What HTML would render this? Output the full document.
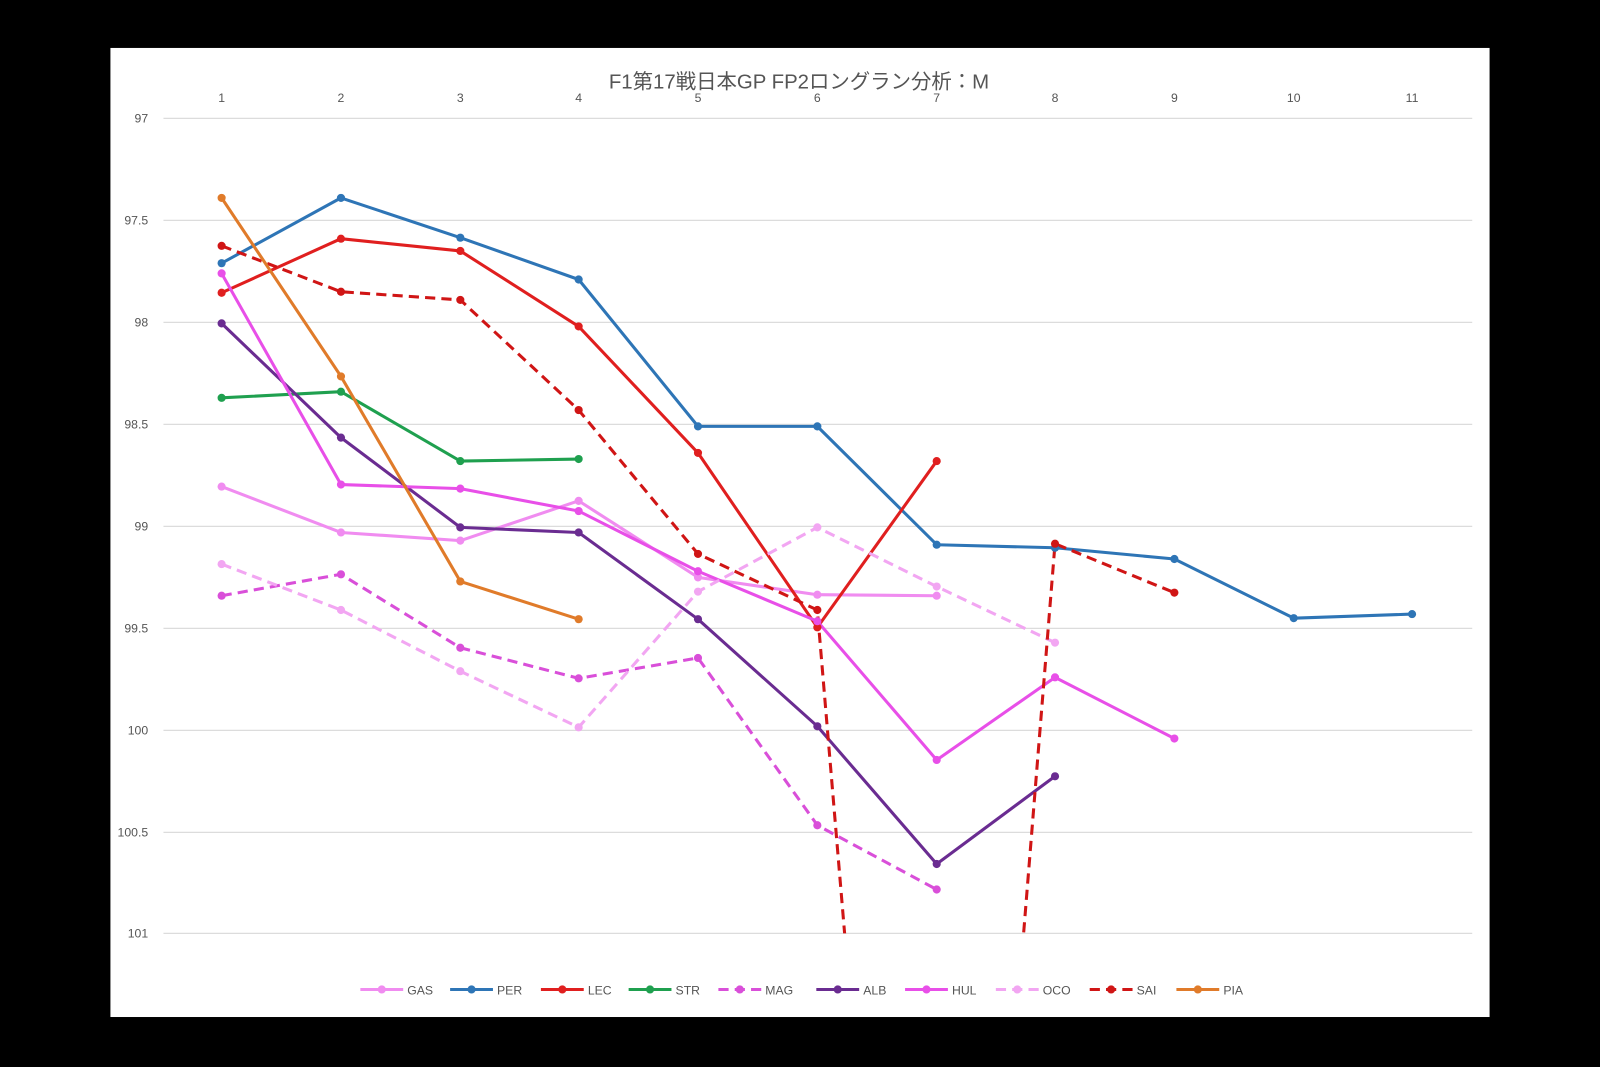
<!DOCTYPE html>
<html><head><meta charset="utf-8"><style>html,body{margin:0;padding:0;background:#000;width:1600px;height:1067px;overflow:hidden}svg{display:block;overflow:hidden}</style></head><body>
<svg width="1600" height="1067" viewBox="0 0 1568 1046" xmlns="http://www.w3.org/2000/svg" font-family="Liberation Sans, Noto Sans CJK JP, sans-serif">
<rect x="0" y="0" width="1568" height="1046" fill="#000"/>
<rect x="108" y="47" width="1352" height="950" fill="#fff"/>
<g stroke="#dcdcdc" stroke-width="1.2">
<line x1="160" y1="116" x2="1443" y2="116"/><line x1="160" y1="216" x2="1443" y2="216"/><line x1="160" y1="316" x2="1443" y2="316"/><line x1="160" y1="416" x2="1443" y2="416"/><line x1="160" y1="516" x2="1443" y2="516"/><line x1="160" y1="616" x2="1443" y2="616"/><line x1="160" y1="716" x2="1443" y2="716"/><line x1="160" y1="816" x2="1443" y2="816"/><line x1="160" y1="915" x2="1443" y2="915"/>
</g>
<g font-size="12" fill="#555" text-anchor="end">
<text x="145" y="120">97</text><text x="145" y="220">97.5</text><text x="145" y="320">98</text><text x="145" y="420">98.5</text><text x="145" y="520">99</text><text x="145" y="620">99.5</text><text x="145" y="720">100</text><text x="145" y="820">100.5</text><text x="145" y="919">101</text>
</g>
<g font-size="12" fill="#555" text-anchor="middle">
<text x="217" y="100">1</text><text x="334" y="100">2</text><text x="451" y="100">3</text><text x="567" y="100">4</text><text x="684" y="100">5</text><text x="801" y="100">6</text><text x="918" y="100">7</text><text x="1034" y="100">8</text><text x="1151" y="100">9</text><text x="1268" y="100">10</text><text x="1384" y="100">11</text>
</g>
<text x="783" y="87" font-size="20" fill="#555" text-anchor="middle">F1第17戦日本GP FP2ロングラン分析：M</text>
<defs><clipPath id="c"><rect x="108" y="47" width="1352" height="868"/></clipPath></defs>
<g fill="none" stroke-width="3" stroke-linejoin="round" clip-path="url(#c)">
<polyline stroke="#f08cf0" points="217,477 334,522 451,530 567,491 684,566 801,583 918,584"/>
<polyline stroke="#2e75b6" points="217,258 334,194 451,233 567,274 684,418 801,418 918,534 1034,537 1151,548 1268,606 1384,602"/>
<polyline stroke="#e01f1f" points="217,287 334,234 451,246 567,320 684,444 801,615 918,452"/>
<polyline stroke="#1fa04f" points="217,390 334,384 451,452 567,450"/>
<polyline stroke="#d94fd9" stroke-dasharray="10,6" points="217,584 334,563 451,635 567,665 684,645 801,809 918,872"/>
<polyline stroke="#6a2c91" points="217,317 334,429 451,517 567,522 684,607 801,712 918,847 1034,761"/>
<polyline stroke="#e84fe8" points="217,268 334,475 451,479 567,501 684,560 801,609 918,745 1034,664 1151,724"/>
<polyline stroke="#f2a6f2" stroke-dasharray="10,6" points="217,553 334,598 451,658 567,713 684,580 801,517 918,575 1034,630"/>
<polyline stroke="#d01515" stroke-dasharray="10,6" points="217,241 334,286 451,294 567,402 684,543 801,598 829,930"/>
<polyline stroke="#d01515" stroke-dasharray="10,6" points="1002,930 1034,533 1151,581"/>
<polyline stroke="#e07b2a" points="217,194 334,369 451,570 567,607"/>
</g>
<g>
<g fill="#f08cf0"><circle cx="217" cy="477" r="4"/><circle cx="334" cy="522" r="4"/><circle cx="451" cy="530" r="4"/><circle cx="567" cy="491" r="4"/><circle cx="684" cy="566" r="4"/><circle cx="801" cy="583" r="4"/><circle cx="918" cy="584" r="4"/></g>
<g fill="#2e75b6"><circle cx="217" cy="258" r="4"/><circle cx="334" cy="194" r="4"/><circle cx="451" cy="233" r="4"/><circle cx="567" cy="274" r="4"/><circle cx="684" cy="418" r="4"/><circle cx="801" cy="418" r="4"/><circle cx="918" cy="534" r="4"/><circle cx="1034" cy="537" r="4"/><circle cx="1151" cy="548" r="4"/><circle cx="1268" cy="606" r="4"/><circle cx="1384" cy="602" r="4"/></g>
<g fill="#e01f1f"><circle cx="217" cy="287" r="4"/><circle cx="334" cy="234" r="4"/><circle cx="451" cy="246" r="4"/><circle cx="567" cy="320" r="4"/><circle cx="684" cy="444" r="4"/><circle cx="801" cy="615" r="4"/><circle cx="918" cy="452" r="4"/></g>
<g fill="#1fa04f"><circle cx="217" cy="390" r="4"/><circle cx="334" cy="384" r="4"/><circle cx="451" cy="452" r="4"/><circle cx="567" cy="450" r="4"/></g>
<g fill="#d94fd9"><circle cx="217" cy="584" r="4"/><circle cx="334" cy="563" r="4"/><circle cx="451" cy="635" r="4"/><circle cx="567" cy="665" r="4"/><circle cx="684" cy="645" r="4"/><circle cx="801" cy="809" r="4"/><circle cx="918" cy="872" r="4"/></g>
<g fill="#6a2c91"><circle cx="217" cy="317" r="4"/><circle cx="334" cy="429" r="4"/><circle cx="451" cy="517" r="4"/><circle cx="567" cy="522" r="4"/><circle cx="684" cy="607" r="4"/><circle cx="801" cy="712" r="4"/><circle cx="918" cy="847" r="4"/><circle cx="1034" cy="761" r="4"/></g>
<g fill="#e84fe8"><circle cx="217" cy="268" r="4"/><circle cx="334" cy="475" r="4"/><circle cx="451" cy="479" r="4"/><circle cx="567" cy="501" r="4"/><circle cx="684" cy="560" r="4"/><circle cx="801" cy="609" r="4"/><circle cx="918" cy="745" r="4"/><circle cx="1034" cy="664" r="4"/><circle cx="1151" cy="724" r="4"/></g>
<g fill="#f2a6f2"><circle cx="217" cy="553" r="4"/><circle cx="334" cy="598" r="4"/><circle cx="451" cy="658" r="4"/><circle cx="567" cy="713" r="4"/><circle cx="684" cy="580" r="4"/><circle cx="801" cy="517" r="4"/><circle cx="918" cy="575" r="4"/><circle cx="1034" cy="630" r="4"/></g>
<g fill="#d01515"><circle cx="217" cy="241" r="4"/><circle cx="334" cy="286" r="4"/><circle cx="451" cy="294" r="4"/><circle cx="567" cy="402" r="4"/><circle cx="684" cy="543" r="4"/><circle cx="801" cy="598" r="4"/><circle cx="1034" cy="533" r="4"/><circle cx="1151" cy="581" r="4"/></g>
<g fill="#e07b2a"><circle cx="217" cy="194" r="4"/><circle cx="334" cy="369" r="4"/><circle cx="451" cy="570" r="4"/><circle cx="567" cy="607" r="4"/></g>
</g>
<g stroke-width="3" font-size="12" fill="#555">
<line x1="353" y1="970" x2="395" y2="970" stroke="#f08cf0"/><circle cx="374" cy="970" r="4" fill="#f08cf0"/><text x="399" y="975">GAS</text>
<line x1="441" y1="970" x2="483" y2="970" stroke="#2e75b6"/><circle cx="462" cy="970" r="4" fill="#2e75b6"/><text x="487" y="975">PER</text>
<line x1="530" y1="970" x2="572" y2="970" stroke="#e01f1f"/><circle cx="551" cy="970" r="4" fill="#e01f1f"/><text x="576" y="975">LEC</text>
<line x1="616" y1="970" x2="658" y2="970" stroke="#1fa04f"/><circle cx="637" cy="970" r="4" fill="#1fa04f"/><text x="662" y="975">STR</text>
<line x1="704" y1="970" x2="746" y2="970" stroke="#d94fd9" stroke-dasharray="10,6"/><circle cx="725" cy="970" r="4" fill="#d94fd9"/><text x="750" y="975">MAG</text>
<line x1="800" y1="970" x2="842" y2="970" stroke="#6a2c91"/><circle cx="821" cy="970" r="4" fill="#6a2c91"/><text x="846" y="975">ALB</text>
<line x1="887" y1="970" x2="929" y2="970" stroke="#e84fe8"/><circle cx="908" cy="970" r="4" fill="#e84fe8"/><text x="933" y="975">HUL</text>
<line x1="976" y1="970" x2="1018" y2="970" stroke="#f2a6f2" stroke-dasharray="10,6"/><circle cx="997" cy="970" r="4" fill="#f2a6f2"/><text x="1022" y="975">OCO</text>
<line x1="1068" y1="970" x2="1110" y2="970" stroke="#d01515" stroke-dasharray="10,6"/><circle cx="1089" cy="970" r="4" fill="#d01515"/><text x="1114" y="975">SAI</text>
<line x1="1153" y1="970" x2="1195" y2="970" stroke="#e07b2a"/><circle cx="1174" cy="970" r="4" fill="#e07b2a"/><text x="1199" y="975">PIA</text>
</g>
</svg>
</body></html>
